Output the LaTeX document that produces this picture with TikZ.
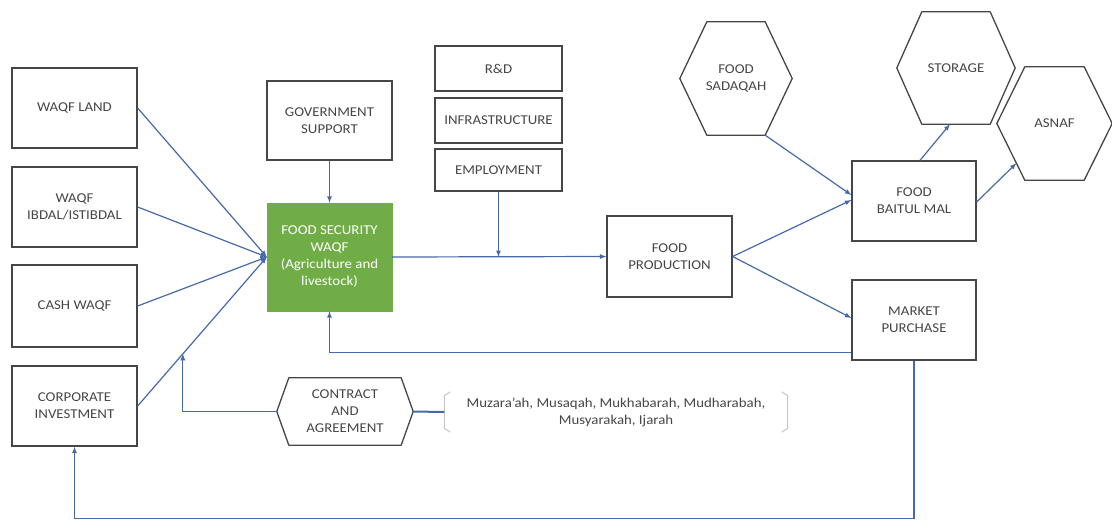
\documentclass[tikz,border=0pt]{standalone}
\usepackage{fontspec}
\setmainfont{Carlito}[FakeStretch=1.1]
\usepackage{tikz}
\usetikzlibrary{arrows, positioning, calc}

\definecolor{linkblue}{RGB}{70,105,170}
\definecolor{wgreen}{RGB}{112,173,71}
\definecolor{boxgray}{RGB}{70,70,70}
\definecolor{brgray}{RGB}{200,200,200}

\begin{document}
\begin{tikzpicture}[x=1pt, y=-1pt,
    every node/.style={font=\fontsize{13.5}{17}\selectfont, text=boxgray, align=center},
    sqbox/.style={draw=boxgray, line width=1.3pt, minimum width=125pt, minimum height=80pt, inner sep=2pt},
    greenbox/.style={fill=wgreen, draw=wgreen, minimum width=125pt, minimum height=108pt, text=white},
    hexbox/.style n args={3}{minimum width=#1, minimum height=#2, inner sep=0pt,
        append after command={\pgfextra{\draw[boxgray, line width=1.3pt, line join=round]
            (\tikzlastnode.west) -- ([xshift=#3]\tikzlastnode.north west)
            -- ([xshift=-#3]\tikzlastnode.north east) -- (\tikzlastnode.east)
            -- ([xshift=-#3]\tikzlastnode.south east) -- ([xshift=#3]\tikzlastnode.south west)
            -- cycle;}}},
    flow/.style={draw=linkblue, line width=1.2pt, -latex},
    link/.style={draw=linkblue, line width=1.2pt}
]
\useasboundingbox (0,0) rectangle (1112,520);

% Sources
\node[sqbox] (land) at (74.5,108) {WAQF LAND};
\node[sqbox] (ibdal) at (74.5,207) {WAQF\\IBDAL/ISTIBDAL};
\node[sqbox, minimum height=82pt] (cash) at (74.5,306) {CASH WAQF};
\node[sqbox] (corp) at (74.5,406) {CORPORATE\\INVESTMENT};

% Centre
\node[sqbox, minimum height=79pt] (gov) at (329.5,120.5) {GOVERNMENT\\SUPPORT};
\node[greenbox] (fsw) at (329.5,257) {FOOD SECURITY\\WAQF\\(Agriculture and\\livestock)};

\node[sqbox, minimum width=127pt, minimum height=45pt] (rnd) at (498.5,68.5) {R\&D};
\node[sqbox, minimum width=127pt, minimum height=45pt] (infra) at (498.5,120.5) {INFRASTRUCTURE};
\node[sqbox, minimum width=127pt, minimum height=42pt] (employ) at (498.5,170) {EMPLOYMENT};

\node[sqbox, minimum height=81pt] (prod) at (669.5,256.5) {FOOD\\PRODUCTION};

% Distribution
\node[hexbox={112pt}{113pt}{27pt}] (sadaqah) at (736,78.5) {FOOD\\SADAQAH};
\node[sqbox, minimum width=124pt] (baitul) at (914,201) {FOOD\\BAITUL MAL};
\node[sqbox, minimum width=124pt] (market) at (914,320) {MARKET\\PURCHASE};
\node[hexbox={118pt}{112pt}{25pt}] (storage) at (956,68) {STORAGE};
\node[hexbox={115pt}{113pt}{28pt}] (asnaf) at (1054.5,123.5) {ASNAF};

% Contracts
\node[hexbox={136pt}{67pt}{12pt}] (contract) at (345,411.5) {CONTRACT\\AND\\AGREEMENT};
\node[minimum width=343pt, minimum height=40pt, inner sep=0pt] (modes) at (616,412)
    {Muzara'ah, Musaqah, Mukhabarah, Mudharabah,\\Musyarakah, Ijarah};
\draw[brgray, line width=1pt] ([xshift=6pt]modes.north west) -- ([yshift=-4pt]modes.north west)
    -- ([yshift=4pt]modes.south west) -- ([xshift=6pt]modes.south west);
\draw[brgray, line width=1pt] ([xshift=-6pt]modes.north east) -- ([yshift=-4pt]modes.north east)
    -- ([yshift=4pt]modes.south east) -- ([xshift=-6pt]modes.south east);

% Connectors
\foreach \src in {land, ibdal, cash, corp}
    \draw[flow] (\src.east) -- (fsw.west);
\draw[flow] (gov.south) -- (fsw.north);
\draw[flow] (fsw.east) -- (prod.west);
\draw[flow] (employ.south) -- (employ.south |- fsw.east);

\draw[flow] (prod.east) -- ([yshift=1pt]baitul.west);
\draw[flow] (prod.east) -- ([yshift=2pt]market.west);
\draw[flow] ([xshift=-27pt]sadaqah.south east) -- ([yshift=6pt]baitul.west);
\draw[flow] ([xshift=6pt]baitul.north) -- ([xshift=-6pt]storage.south);
\draw[flow] ([yshift=-1pt]baitul.east) -- ($(asnaf.west)!0.7!([xshift=28pt]asnaf.south west)$);

\draw[flow] ([yshift=8pt]market.south west) -| (fsw.south);
\draw[flow] (market.south) |- ([yshift=-72pt]corp.south) -- (corp.south);

\coordinate (join) at ($(corp.east)!0.35!(fsw.west)$);
\draw[flow] (contract.west) -| (join);
\draw[link, line width=2pt] (contract.east) -- (modes.west);
\end{tikzpicture}
\end{document}
